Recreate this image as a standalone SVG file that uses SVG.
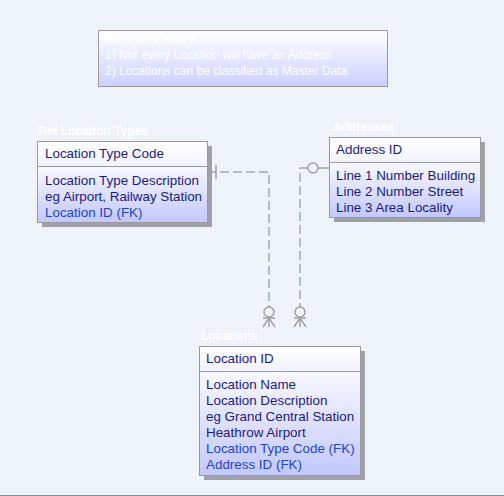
<svg xmlns="http://www.w3.org/2000/svg" width="504" height="496" viewBox="0 0 504 496">
<defs>
<linearGradient id="hdr" x1="0" y1="0" x2="0" y2="1"><stop offset="0" stop-color="#ffffff"/><stop offset="1" stop-color="#f2f2ff"/></linearGradient>
<linearGradient id="bdy" x1="0" y1="0" x2="0" y2="1"><stop offset="0" stop-color="#f8f8ff"/><stop offset="1" stop-color="#c2c8ff"/></linearGradient>
<linearGradient id="note" x1="0" y1="0" x2="0" y2="1"><stop offset="0" stop-color="#ffffff"/><stop offset="1" stop-color="#ccd0ff"/></linearGradient>
<pattern id="bg" width="4" height="4" patternUnits="userSpaceOnUse">
<rect width="4" height="4" fill="#ecf5f9"/>
<rect x="0" y="0" width="1" height="1" fill="#f7ecf6"/>
<rect x="2" y="1" width="1" height="1" fill="#dff0f7"/>
<rect x="1" y="2" width="1" height="1" fill="#ffffff"/>
<rect x="3" y="3" width="1" height="1" fill="#e2eaef"/>
</pattern>
</defs>
<style>
text{font-family:"Liberation Sans",Arial,sans-serif}
.t{font-size:13.4px;fill:#1c1c80}
.fk{font-size:13.4px;fill:#2244cc}
.title{font-size:12px;font-weight:bold;fill:#ffffff}
.nt{font-size:12px;fill:#ffffff}
.frame{stroke:#9a9a9a;stroke-width:1}
.shadow{fill:#a0a0a8}
.conn{fill:none;stroke:#a8a8a8;stroke-width:1.5;stroke-dasharray:9 4}
.sym{fill:none;stroke:#a0a0a0;stroke-width:1.5}
</style>
<rect width="504" height="496" fill="url(#bg)"/>
<line x1="0" y1="495.5" x2="504" y2="495.5" stroke="#8a8a8a"/>

<g id="note-box">
<rect x="98.5" y="30.5" width="289" height="56" fill="url(#note)" class="frame"/>
<text class="title" x="105" y="43">Business Rules</text>
<text class="nt" x="105" y="59">1) Not every Location will have an Address</text>
<text class="nt" x="105" y="75">2) Locations can be classified as Master Data</text>
</g>

<g id="connectors">
<polyline class="conn" points="207,172 269,172 269,307"/>
<line class="sym" x1="216" y1="165" x2="216" y2="179"/>
<circle class="sym" cx="269" cy="312" r="5"/>
<line class="sym" x1="263" y1="318" x2="275" y2="318"/>
<polyline class="sym" points="263,327 269,318 275,327"/>
<line class="sym" x1="269" y1="317" x2="269" y2="327"/>

<polyline class="conn" points="308,168 300,168 300,307"/>
<line class="sym" x1="318" y1="168" x2="329" y2="168"/>
<circle class="sym" cx="313" cy="168" r="5"/>
<circle class="sym" cx="300" cy="312" r="5"/>
<line class="sym" x1="294" y1="318" x2="306" y2="318"/>
<polyline class="sym" points="294,327 300,318 306,327"/>
<line class="sym" x1="300" y1="317" x2="300" y2="327"/>
</g>

<g id="ref-location-types">
<text class="title" x="38" y="135">Ref Location Types</text>
<rect class="shadow" x="42" y="146" width="170" height="81"/>
<rect x="37.5" y="141.5" width="170" height="25" fill="url(#hdr)" class="frame"/>
<rect x="37.5" y="166.5" width="170" height="56" fill="url(#bdy)" class="frame"/>
<text class="t" x="45" y="158">Location Type Code</text>
<text class="t" x="45" y="185">Location Type Description</text>
<text class="t" x="45" y="201">eg Airport, Railway Station</text>
<text class="fk" x="45" y="217">Location ID (FK)</text>
</g>

<g id="addresses">
<text class="title" x="333" y="131">Addresses</text>
<rect class="shadow" x="334" y="142" width="151" height="80"/>
<rect x="329.5" y="137.5" width="151" height="25" fill="url(#hdr)" class="frame"/>
<rect x="329.5" y="162.5" width="151" height="55" fill="url(#bdy)" class="frame"/>
<text class="t" x="336" y="154">Address ID</text>
<text class="t" x="336" y="180">Line 1 Number Building</text>
<text class="t" x="336" y="196">Line 2 Number Street</text>
<text class="t" x="336" y="212">Line 3 Area Locality</text>
</g>

<g id="locations">
<text class="title" x="201" y="340">Locations</text>
<rect class="shadow" x="204" y="351" width="161" height="129"/>
<rect x="199.5" y="346.5" width="161" height="25" fill="url(#hdr)" class="frame"/>
<rect x="199.5" y="371.5" width="161" height="104" fill="url(#bdy)" class="frame"/>
<text class="t" x="206" y="363">Location ID</text>
<text class="t" x="206" y="389">Location Name</text>
<text class="t" x="206" y="405">Location Description</text>
<text class="t" x="206" y="421">eg Grand Central Station</text>
<text class="t" x="206" y="437">Heathrow Airport</text>
<text class="fk" x="206" y="453">Location Type Code (FK)</text>
<text class="fk" x="206" y="469">Address ID (FK)</text>
</g>
</svg>
